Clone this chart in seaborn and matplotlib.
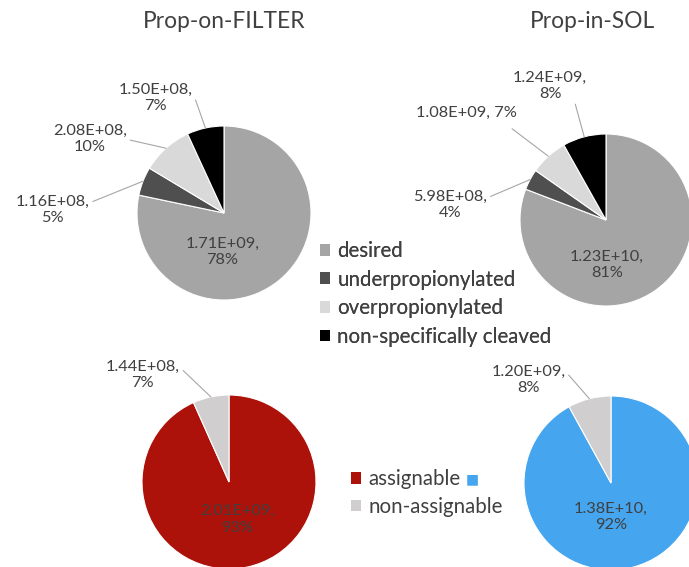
import matplotlib
matplotlib.use("Agg")
import matplotlib.pyplot as plt
import seaborn as sns
import numpy as np
from matplotlib.patches import Patch

# ---------------- data ----------------
categories = ["desired", "underpropionylated", "overpropionylated", "non-specifically cleaved"]
filter_values = [1.71e9, 1.16e8, 2.08e8, 1.50e8]
sol_values = [1.23e10, 5.98e8, 1.08e9, 1.24e9]

assign_categories = ["assignable", "non-assignable"]
filter_assign_values = [2.01e9, 1.44e8]
sol_assign_values = [1.38e10, 1.20e9]

titles = ["Prop-on-FILTER", "Prop-in-SOL"]

# ---------------- style ----------------
sns.set_theme(style="white")
plt.rcParams["font.family"] = ["Lato", "DejaVu Sans"]

cat_colors = ["#A5A5A5", "#4F4F4F", "#D9D9D9", "#000000"]
red_colors = ["#AC1209", "#D0CECE"]
blue_colors = ["#45A5EE", "#D0CECE"]
text_color = "#404040"
leader_color = "#A6A6A6"

W, H = 689, 567
fig = plt.figure(figsize=(W / 100, H / 100), dpi=100)

LABEL_FS = 11.8
TITLE_FS = 16.4
LEG_FS = 14.8


def pie_axes(cx, cy, r):
    return fig.add_axes([(cx - r) / W, (H - cy - r) / H, 2 * r / W, 2 * r / H])


def draw_pie(ax, values, colors, label_specs):
    wedges, _ = ax.pie(values, colors=colors, startangle=90, counterclock=False,
                       wedgeprops=dict(edgecolor="white", linewidth=0.8))
    ax.set_xlim(-1, 1)
    ax.set_ylim(-1, 1)
    ax.set_aspect("equal")
    ax.axis("off")
    total = float(np.sum(values))
    for w, v, spec in zip(wedges, values, label_specs):
        tx, ty, sep, relpos = spec
        txt = f"{v:.2E}{sep}{round(v / total * 100):.0f}%"
        if relpos is None:
            ax.text(tx, ty, txt, ha="center", va="center", fontsize=LABEL_FS,
                    color=text_color, linespacing=1.2)
        else:
            mid = np.deg2rad((w.theta1 + w.theta2) / 2)
            ax.annotate(txt, xy=(np.cos(mid), np.sin(mid)), xytext=(tx, ty),
                        ha="center", va="center", fontsize=LABEL_FS,
                        color=text_color, linespacing=1.2,
                        annotation_clip=False,
                        arrowprops=dict(arrowstyle="-", color=leader_color, lw=0.8,
                                        relpos=relpos, shrinkA=0, shrinkB=0))
    return wedges


# top-left
ax1 = pie_axes(224, 213, 87)
draw_pie(ax1, filter_values, cat_colors, [
    (-0.02, -0.45, ",\n", None),
    (-1.97, 0.03, ",\n", (1.0, 0.75)),
    (-1.54, 0.85, ",\n", (0.8, 0.6)),
    (-0.79, 1.32, ",\n", (1.0, 0.75)),
])

# top-right
ax2 = pie_axes(606, 220, 86)
draw_pie(ax2, sol_values, cat_colors, [
    (0.01, -0.52, ",\n", None),
    (-1.81, 0.17, ",\n", (1.0, 0.75)),
    (-1.62, 1.24, ", ", (0.95, -0.6)),
    (-0.65, 1.56, ",\n", (0.8, 0.25)),
])

# bottom-left
ax3 = pie_axes(229, 482, 87)
draw_pie(ax3, filter_assign_values, red_colors, [
    (0.09, -0.43, ",\n", None),
    (-0.99, 1.23, ",\n", (1.0, 0.75)),
])

# bottom-right
ax4 = pie_axes(611, 483, 87)
draw_pie(ax4, sol_assign_values, blue_colors, [
    (0.0, -0.39, ",\n", None),
    (-0.95, 1.18, ",\n", (1.0, 0.8)),
])

# titles
fig.text(224 / W, 1 - 22 / H, titles[0], ha="center", va="center", fontsize=TITLE_FS, color=text_color)
fig.text(592 / W, 1 - 22 / H, titles[1], ha="center", va="center", fontsize=TITLE_FS, color=text_color)

# legend for categories
h1 = [Patch(facecolor=c, edgecolor="none") for c in cat_colors]
leg1 = fig.legend(h1, categories, loc="upper left", bbox_to_anchor=(320 / W, 1 - 241 / H),
                  frameon=False, fontsize=LEG_FS, handlelength=0.5, handleheight=0.5,
                  handletextpad=0.35, labelspacing=0.42, borderpad=0, borderaxespad=0)
for t in leg1.get_texts():
    t.set_color(text_color)

h2 = [Patch(facecolor=red_colors[0], edgecolor="none"), Patch(facecolor=red_colors[1], edgecolor="none")]
leg2 = fig.legend(h2, assign_categories, loc="upper left", bbox_to_anchor=(351 / W, 1 - 469 / H),
                  frameon=False, fontsize=LEG_FS, handlelength=0.5, handleheight=0.5,
                  handletextpad=0.35, labelspacing=0.38, borderpad=0, borderaxespad=0)
for t in leg2.get_texts():
    t.set_color(text_color)
fig.add_artist(leg1)

# blue square right after "assignable" (second series colour)
fig.canvas.draw()
atext = leg2.get_texts()[0]
bb = atext.get_window_extent(fig.canvas.get_renderer())
fig.text((bb.x1 + 5) / W, ((bb.y0 + bb.y1) / 2) / H, "■", color=blue_colors[0],
         fontsize=10, family=["DejaVu Sans"], ha="left", va="center")

fig.savefig("out.png", dpi=100)
